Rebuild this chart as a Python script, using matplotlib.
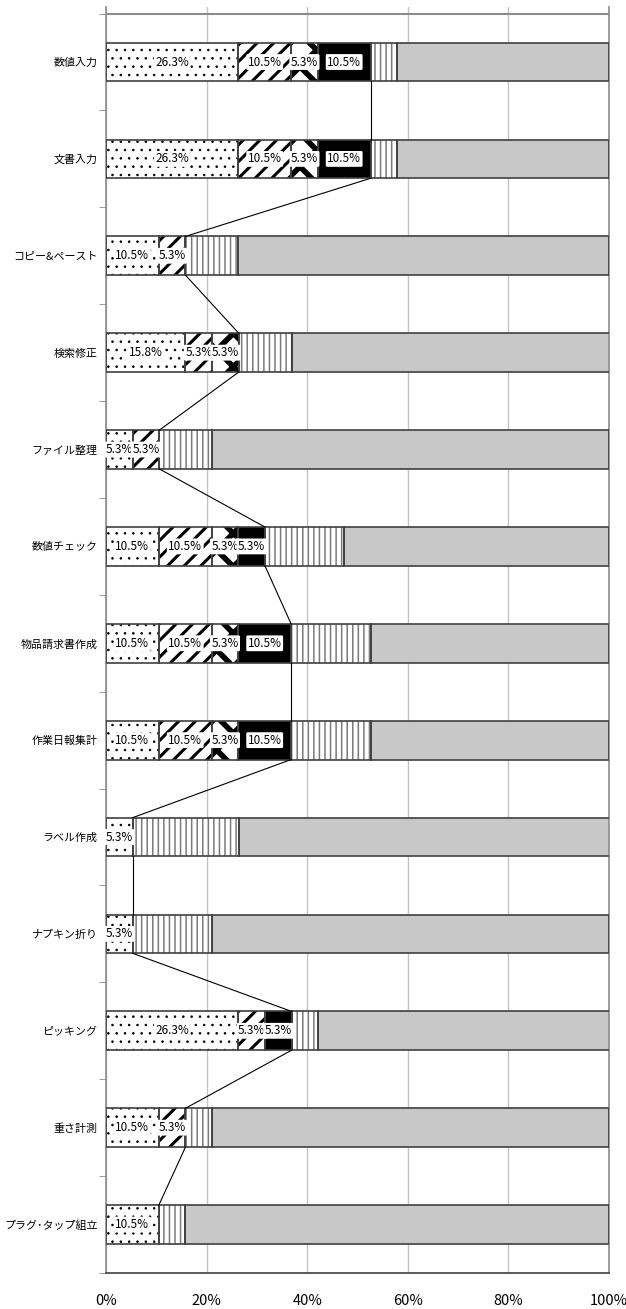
import matplotlib
matplotlib.use("Agg")
import numpy as np
import matplotlib.pyplot as plt
from matplotlib import font_manager

# ── data ────────────────────────────────────────────────────────────────────
categories = [
    "数値入力", "文書入力", "コピー&ペースト", "検索修正", "ファイル整理",
    "数値チェック", "物品請求書作成", "作業日報集計", "ラベル作成",
    "ナプキン折り", "ピッキング", "重さ計測", "プラグ･タップ組立",
]
s_dots    = [26.3, 26.3, 10.5, 15.8, 5.3, 10.5, 10.5, 10.5, 5.3, 5.3, 26.3, 10.5, 10.5]
s_stripes = [10.5, 10.5, 5.3, 5.3, 5.3, 10.5, 10.5, 10.5, 0, 0, 5.3, 5.3, 0]
s_diamond = [5.3, 5.3, 0, 5.3, 0, 5.3, 5.3, 5.3, 0, 0, 0, 0, 0]
s_black   = [10.5, 10.5, 0, 0, 0, 5.3, 10.5, 10.5, 0, 0, 5.3, 0, 0]
s_vert    = [5.3, 5.3, 10.5, 10.5, 10.5, 15.8, 15.8, 15.8, 21.1, 15.8, 5.3, 5.3, 5.3]
s_gray    = [42.1, 42.1, 73.7, 63.2, 78.9, 52.6, 47.4, 47.4, 73.7, 78.9, 57.9, 78.9, 84.2]
x_ticks   = [0, 20, 40, 60, 80, 100]

# ── fonts ───────────────────────────────────────────────────────────────────
names = {f.name for f in font_manager.fontManager.ttflist}
JP_FONT = "Noto Sans CJK JP"
NUM_FONT = "Liberation Sans Narrow" if "Liberation Sans Narrow" in names else JP_FONT
plt.rcParams["font.family"] = [JP_FONT, "DejaVu Sans"]

EDGE = "#404040"
AXIS_C = "#8C8C8C"
GRID_C = "#C4C4C4"

# (values, hatch, hatch colour, face colour, hatch linewidth, labelled)
series = [
    (s_dots,    "..",  "black",   "white",   0.6, True),
    (s_stripes, "//",  "black",   "white",   2.2, True),
    (s_diamond, "x",   "black",   "white",   4.0, True),
    (s_black,   None,  "black",   "black",   1.0, True),
    (s_vert,    "|||", "#7A7A7A", "white",   1.1, False),
    (s_gray,    None,  "#C8C8C8", "#C8C8C8", 1.0, False),
]

fig = plt.figure(figsize=(6.26, 13.09), dpi=100)
ax = fig.add_axes([106 / 626, 1 - 1273 / 1309, (609 - 106) / 626, (1273 - 7) / 1309])

y = np.arange(len(categories))
left = np.zeros(len(categories))
BAR_H = 0.4

for vals, hatch, hcol, face, hlw, labelled in series:
    vals = np.asarray(vals, dtype=float)
    keep = vals > 0
    with plt.rc_context({"hatch.linewidth": hlw}):
        bars = ax.barh(y[keep], vals[keep], left=left[keep], height=BAR_H,
                       color=face, edgecolor=hcol, linewidth=0, hatch=hatch, zorder=2)
    for b in bars:
        if hasattr(b, "set_hatch_linewidth"):
            b.set_hatch_linewidth(hlw)
    ax.barh(y[keep], vals[keep], left=left[keep], height=BAR_H,
            fill=False, edgecolor=EDGE, linewidth=1.2, zorder=3)
    if labelled:
        for yi, lo, v in zip(y[keep], left[keep], vals[keep]):
            ax.text(lo + v / 2, yi, f"{v:.1f}%", ha="center", va="center",
                    fontsize=8.5, family=NUM_FONT, color="black", zorder=5,
                    bbox=dict(boxstyle="round,pad=0.12", fc="white", ec="none"))
    left = left + vals

# series lines joining the end of the 4th series between bars
cum4 = np.sum([s_dots, s_stripes, s_diamond, s_black], axis=0)
for i in range(len(categories) - 1):
    ax.plot([cum4[i], cum4[i + 1]], [i + BAR_H / 2, i + 1 - BAR_H / 2],
            color="black", linewidth=0.8, zorder=4)

# ── axes styling ────────────────────────────────────────────────────────────
ax.set_xlim(0, 100)
ax.set_ylim(len(categories) - 0.5, -0.568)

ax.set_xticks(x_ticks)
ax.set_xticklabels([f"{t}%" for t in x_ticks], family=NUM_FONT, fontsize=10.5)
ax.xaxis.grid(True, color=GRID_C, linewidth=1.0, zorder=0)
ax.set_axisbelow(True)
ax.tick_params(axis="x", length=0, pad=15, colors="black")

ax.set_yticks(y)
ax.set_yticklabels(categories, fontsize=7.9)
ax.set_yticks(np.arange(-0.5, len(categories)), minor=True)
ax.tick_params(axis="y", which="major", length=0, pad=6)
ax.tick_params(axis="y", which="minor", length=5, direction="out", color=AXIS_C)

ax.axhline(-0.5, color=AXIS_C, linewidth=1.5, zorder=1)

ax.spines["top"].set_visible(False)
ax.spines["left"].set_color(AXIS_C)
ax.spines["left"].set_linewidth(1.2)
ax.spines["right"].set_color(AXIS_C)
ax.spines["right"].set_linewidth(1.2)
ax.spines["bottom"].set_color("#404040")
ax.spines["bottom"].set_linewidth(1.2)

fig.savefig("out.png", dpi=100)
plt.close(fig)
